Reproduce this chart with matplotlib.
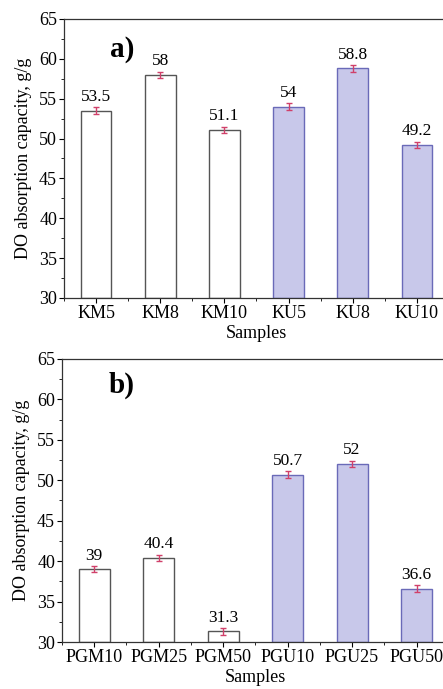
import numpy as np
import matplotlib
matplotlib.use('Agg')
import matplotlib.pyplot as plt
from matplotlib.ticker import MultipleLocator

plt.rcParams['font.family'] = ['Liberation Serif', 'DejaVu Serif']

# Data
samples_a = ['KM5', 'KM8', 'KM10', 'KU5', 'KU8', 'KU10']
values_a = [53.5, 58, 51.1, 54, 58.8, 49.2]
errors_a = [0.4, 0.4, 0.4, 0.4, 0.4, 0.4]
labels_a = ['53.5', '58', '51.1', '54', '58.8', '49.2']

samples_b = ['PGM10', 'PGM25', 'PGM50', 'PGU10', 'PGU25', 'PGU50']
values_b = [39, 40.4, 31.3, 50.7, 52, 36.6]
errors_b = [0.4, 0.4, 0.4, 0.4, 0.4, 0.4]
labels_b = ['39', '40.4', '31.3', '50.7', '52', '36.6']

fig = plt.figure(figsize=(4.43, 6.89), dpi=100)
ax1 = fig.add_axes([0.1445, 0.5675, 0.869, 0.405])
ax2 = fig.add_axes([0.140, 0.0682, 0.873, 0.411])


def draw(ax, samples, values, errors, labels, tag, tag_y):
    x = np.arange(len(samples))
    faces = ['white'] * 3 + ['#c8c8ea'] * 3
    edges = ['#555555'] * 3 + ['#6a6ab8'] * 3
    ax.bar(x, np.array(values) - 30, bottom=30, width=0.48,
           color=faces, edgecolor=edges, linewidth=1.0, zorder=2)
    ax.errorbar(x, values, yerr=errors, fmt='none', ecolor='#d0406a',
                elinewidth=1.0, capsize=2.2, capthick=1.0, zorder=3)
    for xi, v, e, lab in zip(x, values, errors, labels):
        ax.text(xi, v + e + 0.3, lab, ha='center', va='bottom', fontsize=12.5)
    ax.set_xlim(-0.5, 5.5)
    ax.set_ylim(30, 65)
    ax.set_xticks(x)
    ax.set_xticklabels(samples)
    ax.xaxis.set_minor_locator(MultipleLocator(0.5))
    ax.yaxis.set_major_locator(MultipleLocator(5))
    ax.yaxis.set_minor_locator(MultipleLocator(2.5))
    ax.tick_params(axis='both', which='major', labelsize=13, length=3.5,
                   width=0.8, direction='out', pad=1.5)
    ax.tick_params(axis='both', which='minor', length=2, width=0.6)
    ax.set_xlabel('Samples', fontsize=13, labelpad=2.5)
    ax.set_ylabel('DO absorption capacity, g/g', fontsize=13, labelpad=5)
    for s in ax.spines.values():
        s.set_linewidth(0.9)
        s.set_color('#333333')
    ax.text(0.12, tag_y, tag, transform=ax.transAxes, fontsize=21,
            fontweight='bold', ha='left', va='center')


draw(ax1, samples_a, values_a, errors_a, labels_a, 'a)', 0.89)
draw(ax2, samples_b, values_b, errors_b, labels_b, 'b)', 0.905)

fig.savefig('out.png', dpi=100)
